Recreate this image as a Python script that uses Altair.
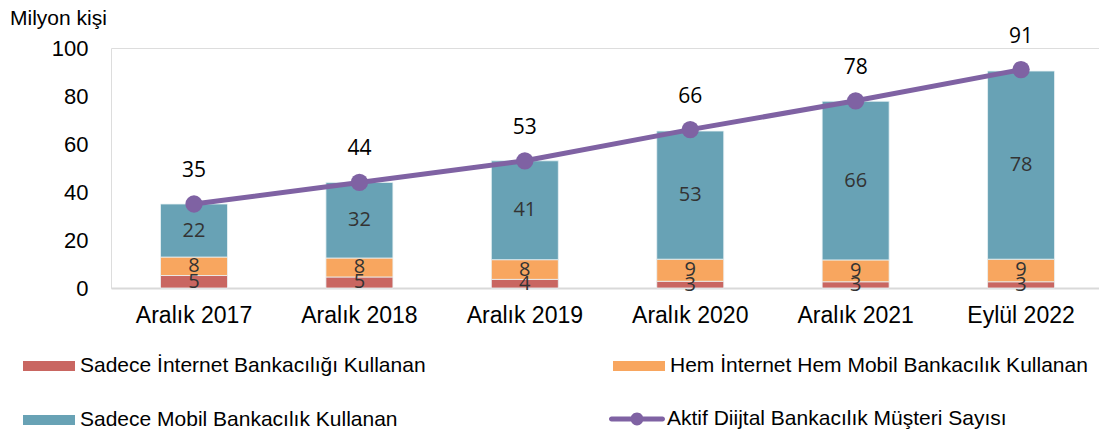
import altair as alt
import pandas as pd

categories = ["Aralık 2017", "Aralık 2018", "Aralık 2019", "Aralık 2020", "Aralık 2021", "Eylül 2022"]
internet_only = [5.2, 4.6, 3.6, 2.8, 2.6, 2.6]
both_channels = [7.7, 7.9, 8.2, 9.2, 9.1, 9.4]
mobile_only = [22.1, 31.5, 41.2, 53.4, 66.1, 78.4]
active_total = [35, 44, 53, 66, 78, 91]

series_names = [
    "Sadece İnternet Bankacılığı Kullanan",
    "Hem İnternet Hem Mobil Bankacılık Kullanan",
    "Sadece Mobil Bankacılık Kullanan",
]
series_colors = ["#C96661", "#F8A65F", "#68A2B5"]
legend_order = [0, 2, 1]  # legend fills column by column
line_name = "Aktif Diijtal Bankacılık Müşteri Sayısı"
line_color = "#7F62A3"

rows = []
for k, (name, vals) in enumerate(zip(series_names, [internet_only, both_channels, mobile_only])):
    for c, v in zip(categories, vals):
        rows.append({"cat": c, "series": name, "value": v, "order": k})
bars_df = pd.DataFrame(rows)
line_df = pd.DataFrame({"cat": categories, "total": active_total, "name": [line_name] * len(categories)})

AX = "Liberation Sans"

x_enc = alt.X(
    "cat:N",
    sort=categories,
    scale=alt.Scale(paddingInner=0.595, paddingOuter=0.284, align=0.527),
    axis=alt.Axis(
        title=None, labelAngle=0, labelFont=AX, labelFontSize=23, labelColor="#000000",
        ticks=False, domainColor="#D9D9D9", domainWidth=2, labelPadding=16,
    ),
)
y_scale = alt.Scale(domain=[0, 100])
y_axis = alt.Axis(
    values=[0, 20, 40, 60, 80, 100], title=None, grid=False, domain=False, ticks=False,
    labelPadding=23, labelFont=AX, labelFontSize=22, labelColor="#000000",
)

stacked = alt.Chart(bars_df).transform_stack(
    stack="value", as_=["v0", "v1"], groupby=["cat"], sort=[alt.SortField("order")]
).transform_calculate(mid="(datum.v0 + datum.v1) / 2")

bars = stacked.mark_bar(stroke="#EAF2F5", strokeWidth=0.8).encode(
    x=x_enc,
    y=alt.Y("v0:Q", scale=y_scale, axis=y_axis),
    y2="v1:Q",
    color=alt.Color(
        "series:N",
        scale=alt.Scale(
            domain=[series_names[i] for i in legend_order],
            range=[series_colors[i] for i in legend_order],
        ),
        legend=alt.Legend(
            title=None, orient="none", legendX=-88, legendY=292, columns=2,
            symbolType="M-1,-0.19H1V0.19H-1Z", symbolSize=2704, symbolStrokeWidth=0,
            labelOffset=5, columnPadding=187, rowPadding=18, padding=0,
            labelFont=AX, labelFontSize=21, labelColor="#000000", labelLimit=1000,
        ),
    ),
)

seg_labels = stacked.mark_text(font="Open Sans", fontSize=20, color="#333333", baseline="middle").encode(
    x=alt.X("cat:N", sort=categories),
    y=alt.Y("mid:Q", scale=y_scale),
    text=alt.Text("value:Q", format=".0f"),
)

line_base = alt.Chart(line_df)
line = line_base.mark_line(color=line_color, strokeWidth=5).encode(
    x=alt.X("cat:N", sort=categories),
    y=alt.Y("total:Q", scale=y_scale),
)
line_path = (
    "M-0.91,-0.09H0.91A0.09,0.09 0 0,1 0.91,0.09H-0.91A0.09,0.09 0 0,1 -0.91,-0.09Z "
    "M0.23,0A0.23,0.23 0 1,1 -0.23,0A0.23,0.23 0 1,1 0.23,0Z"
)
points = line_base.mark_circle(size=300, opacity=1).encode(
    x=alt.X("cat:N", sort=categories),
    y=alt.Y("total:Q", scale=y_scale),
    fill=alt.Fill(
        "name:N",
        scale=alt.Scale(domain=[line_name], range=[line_color]),
        legend=alt.Legend(
            title=None, orient="none", legendX=498, legendY=343,
            symbolType=line_path, symbolSize=3136, symbolStrokeWidth=0,
            labelOffset=2, padding=0,
            labelFont=AX, labelFontSize=21, labelColor="#000000", labelLimit=1000,
        ),
    ),
)
line_labels = line_base.mark_text(font="Open Sans", fontSize=21, color="#000000", baseline="middle", dy=-33).encode(
    x=alt.X("cat:N", sort=categories),
    y=alt.Y("total:Q", scale=y_scale),
    text=alt.Text("total:Q", format=".0f"),
)

chart = alt.layer(bars, seg_labels, line, points, line_labels).properties(
    width=988,
    height=240,
    autosize=alt.AutoSizeParams(type="none"),
    padding={"left": 111, "top": 48, "right": 0, "bottom": 144},
    title=alt.TitleParams(
        "Milyon kişi", anchor="start", frame="group", dx=-101, dy=3, font=AX, fontSize=21,
        fontWeight="normal", color="#000000", offset=0,
    ),
).configure_view(stroke=None).configure(background="white")

chart.save("out.html", embed_options={"renderer": "svg", "actions": False})
